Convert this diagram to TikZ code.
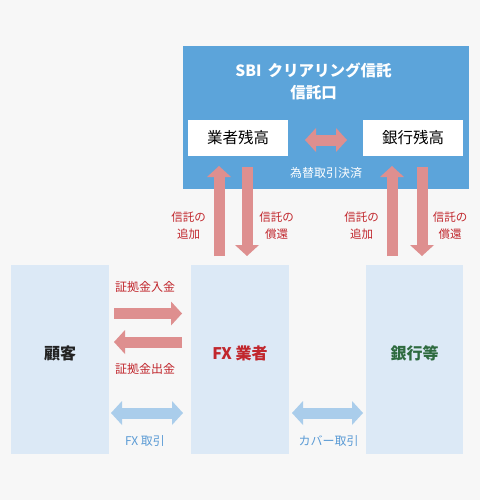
\documentclass[tikz,border=0pt]{standalone}
\usepackage{fontspec}
\setmainfont{Noto Sans CJK JP}
\usetikzlibrary{arrows.meta}
\definecolor{bg}{HTML}{F7F7F7}
\definecolor{sbiblue}{HTML}{5CA4DA}
\definecolor{boxblue}{HTML}{DCE9F6}
\definecolor{pinkc}{HTML}{DE8F8F}
\definecolor{arrowblue}{HTML}{AACDEB}
\definecolor{redtext}{HTML}{C1272D}
\definecolor{bluetext}{HTML}{5B9BD5}
\definecolor{greentext}{HTML}{2E6B3F}
\definecolor{darktext}{HTML}{222222}
\tikzset{
  fattip/.tip={Triangle[width=24pt,length=11pt,line width=0pt]},
  fatpink/.style={draw=pinkc, line width=11pt, -fattip},
  fatpinkboth/.style={draw=pinkc, line width=11pt, fattip-fattip},
  fatblueboth/.style={draw=arrowblue, line width=11pt, fattip-fattip},
  panel/.style={fill=boxblue, inner sep=0pt, minimum width=98pt, minimum height=189pt},
  whitebox/.style={fill=white, inner sep=0pt, minimum width=100pt, minimum height=36pt, font=\fontsize{15.5}{18}\selectfont},
  redlbl/.style={text=redtext, align=center, inner sep=0pt, font=\fontsize{11.5}{17}\selectfont},
  lbl/.style={inner sep=0pt, font=\fontsize{12}{14}\selectfont},
  big/.style={inner sep=0pt, font=\bfseries\fontsize{16}{18}\selectfont},
}
\begin{document}
\begin{tikzpicture}[x=1pt,y=-1pt]
\fill[bg] (0,0) rectangle (480,500);
\useasboundingbox (0,0) rectangle (480,500);
% top trust box
\node[fill=sbiblue, inner sep=0pt, minimum width=286pt, minimum height=143pt] (sbi) at (326,117.5) {};
\node[text=white, align=center, inner sep=0pt, font=\bfseries\fontsize{15.5}{22}\selectfont] (title) at (313.5,81) {SBI\hspace{0.4em}クリアリング信託\\信託口};
\node[whitebox] (gyosha) at (238,138) {業者残高};
\node[whitebox] (ginko) at (413,138) {銀行残高};
\node[text=white, lbl] (kawase) at (326,173) {為替取引決済};
% bottom panels
\node[panel] (kokyaku) at (60,359.5) {};
\node[panel] (fx) at (240,359.5) {};
\node[panel, minimum width=97pt] (bank) at (414.5,359.5) {};
\node[big, text=darktext] (tkokyaku) at (60,353) {顧客};
\node[big, text=redtext] (tfx) at (240,353) {FX 業者};
\node[big, text=greentext] (tbank) at (414.5,353) {銀行等};
% vertical arrow end points
\coordinate (lu1) at (219,256); \coordinate (lu2) at (219,166);
\coordinate (ld1) at (247,167); \coordinate (ld2) at (247,256);
\coordinate (ru1) at (392,256); \coordinate (ru2) at (392,166);
\coordinate (rd1) at (422,167); \coordinate (rd2) at (422,256);
\draw[fatpink] (lu1) -- (lu2);
\draw[fatpink] (ld1) -- (ld2);
\draw[fatpink] (ru1) -- (ru2);
\draw[fatpink] (rd1) -- (rd2);
\coordinate (bal1) at (305,140); \coordinate (bal2) at (347,140);
\draw[fatpinkboth] (bal1) -- (bal2);
% horizontal arrows
\coordinate (in1) at (114,313.5); \coordinate (in2) at (182,313.5);
\coordinate (out1) at (182,342); \coordinate (out2) at (114,342);
\draw[fatpink] (in1) -- (in2);
\draw[fatpink] (out1) -- (out2);
\coordinate (fx1) at (111,413); \coordinate (fx2) at (183,413);
\coordinate (cv1) at (292,413); \coordinate (cv2) at (363,413);
\draw[fatblueboth] (fx1) -- (fx2);
\draw[fatblueboth] (cv1) -- (cv2);
% labels
\node[redlbl] (l1) at (188.5,225.5) {信託の\\追加};
\node[redlbl] (l2) at (276.5,225.5) {信託の\\償還};
\node[redlbl] (l3) at (361.5,225.5) {信託の\\追加};
\node[redlbl] (l4) at (450,225.5) {信託の\\償還};
\node[lbl, text=redtext] (nyukin) at (145,287) {証拠金入金};
\node[lbl, text=redtext] (shukkin) at (145,369) {証拠金出金};
\node[lbl, text=bluetext] (fxtr) at (145,441) {FX 取引};
\node[lbl, text=bluetext] (cover) at (328.5,441) {カバー取引};
\end{tikzpicture}
\end{document}
